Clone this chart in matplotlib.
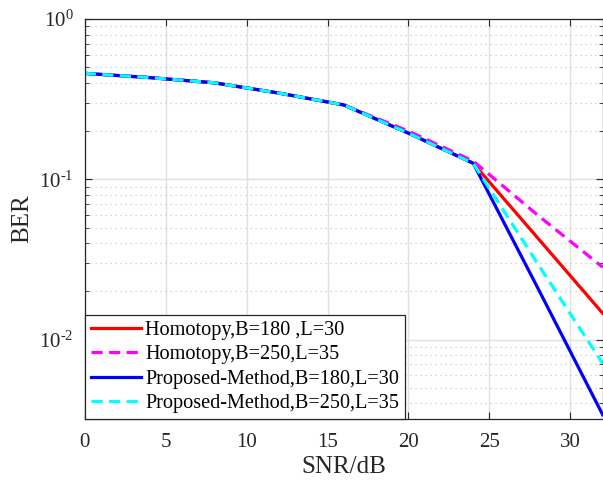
import numpy as np
import matplotlib
matplotlib.use('Agg')
import matplotlib.pyplot as plt
from matplotlib.ticker import LogLocator, NullFormatter, FuncFormatter

plt.rcParams['font.family'] = ['Liberation Serif', 'DejaVu Serif']
plt.rcParams['mathtext.fontset'] = 'custom'
plt.rcParams['mathtext.rm'] = 'Liberation Serif'
plt.rcParams['mathtext.it'] = 'Liberation Serif:italic'

# SNR points (dB)
snr = [0, 4, 8, 12, 16, 20, 24, 28, 32]

# BER values
ber_homotopy_180 = [0.458, 0.431, 0.40, 0.345, 0.291, 0.194, 0.126, 0.0429, 0.0146]
ber_homotopy_250 = [0.458, 0.431, 0.40, 0.345, 0.291, 0.200, 0.130, 0.0596, 0.0283]
ber_proposed_180 = [0.458, 0.431, 0.40, 0.345, 0.291, 0.194, 0.126, 0.0209, 0.0034]
ber_proposed_250 = [0.458, 0.431, 0.40, 0.345, 0.291, 0.194, 0.126, 0.0296, 0.0071]

labels = ['Homotopy,B=180 ,L=30', 'Homotopy,B=250,L=35',
          'Proposed-Method,B=180,L=30', 'Proposed-Method,B=250,L=35']

fig = plt.figure(figsize=(6.03, 4.83), dpi=100)
ax = fig.add_axes([0.1405, 0.1325, 0.8590, 0.8282])

lw = 2.3
dash = (0, (3.5, 2))
ax.semilogy(snr, ber_homotopy_180, color='#ff0000', lw=lw, label=labels[0])
ax.semilogy(snr, ber_homotopy_250, color='#ff00ff', lw=lw, ls=dash, label=labels[1])
ax.semilogy(snr, ber_proposed_180, color='#0000ff', lw=lw, label=labels[2])
ax.semilogy(snr, ber_proposed_250, color='#00ffff', lw=lw, ls=dash, label=labels[3])

ax.set_xlim(0, 32)
ax.set_ylim(0.0032, 1)
ax.set_xticks([0, 5, 10, 15, 20, 25, 30])
ax.yaxis.set_major_locator(LogLocator(base=10, numticks=10))
ax.yaxis.set_major_formatter(FuncFormatter(
    lambda v, p: r'$10^{\text{%d}}$' % round(np.log10(v))))
ax.yaxis.set_minor_locator(LogLocator(base=10, subs=np.arange(2, 10), numticks=20))
ax.yaxis.set_minor_formatter(NullFormatter())

ax.grid(True, which='major', axis='both', color='#e0e0e0', lw=1.0, ls='-')
ax.grid(True, which='minor', axis='y', color='#c8c8c8', lw=0.9, ls=(0, (1, 3)))
ax.set_axisbelow(True)

ax.tick_params(which='both', direction='in', top=True, right=True, colors='#262626',
               labelsize=15)
ax.tick_params(axis='x', pad=10)
ax.tick_params(axis='y', pad=8)
ax.tick_params(which='major', length=5, width=0.8)
ax.tick_params(which='minor', length=3, width=0.6)
for s in ax.spines.values():
    s.set_color('#262626')
    s.set_linewidth(0.9)

ax.set_xlabel('SNR/dB', fontsize=18, color='#262626', labelpad=3)
ax.set_ylabel('BER', fontsize=18, color='#262626', labelpad=4)

leg = ax.legend(loc='lower left', fontsize=14.6, frameon=True, fancybox=False,
                edgecolor='#262626', framealpha=1, borderaxespad=0,
                handlelength=2.5, handletextpad=0.18, borderpad=0.3, labelspacing=0.25)
leg.get_frame().set_linewidth(0.9)

fig.savefig('out.png', dpi=100)
